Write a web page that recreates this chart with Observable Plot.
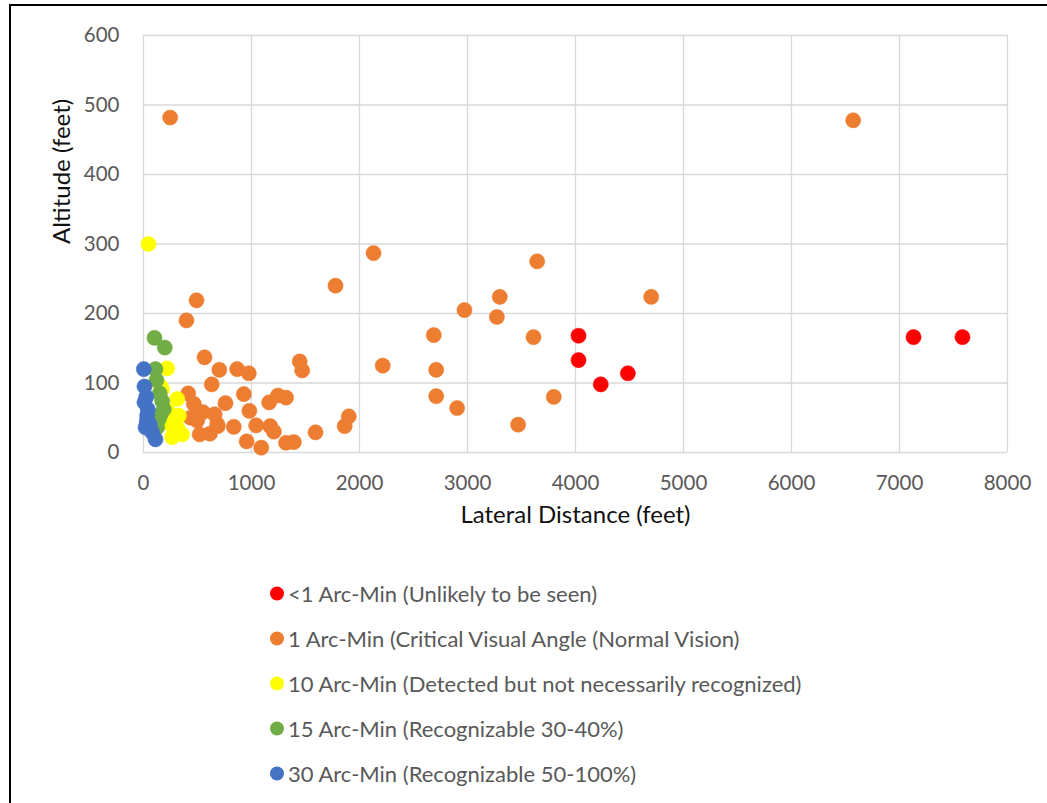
<!DOCTYPE html>
<html><head><meta charset="utf-8">
<script src="https://cdn.jsdelivr.net/npm/d3@7"></script>
<script src="https://cdn.jsdelivr.net/npm/@observablehq/plot@0.6"></script>
<style>
body{margin:0;background:#fff;font-family:Lato, "Open Sans", sans-serif;}
#wrap{position:relative;width:1047px;height:803px;overflow:hidden;background:#fff}
#chart{position:absolute;left:0;top:0}
#border{position:absolute;left:9px;top:4px;width:1200px;height:1000px;border:2px solid #000;box-sizing:border-box;pointer-events:none}
.item{position:absolute;left:270px;display:flex;align-items:center;font-size:22px;color:#595959;white-space:nowrap;transform:translateY(-50%)}
.sw{width:14px;height:14px;border-radius:50%;margin-right:4px}
</style></head><body>
<div id="wrap"><div id="chart"></div><div id="legend"></div><div id="border"></div></div>
<script>
const categories = [
  "<1 Arc-Min (Unlikely to be seen)",
  "1 Arc-Min (Critical Visual Angle (Normal Vision)",
  "10 Arc-Min (Detected but not necessarily recognized)",
  "15 Arc-Min (Recognizable 30-40%)",
  "30 Arc-Min (Recognizable 50-100%)"
];
const colors = ["#ff0000", "#ed7d31", "#ffff00", "#70ad47", "#4472c4"];
const xTicks = [0, 1000, 2000, 3000, 4000, 5000, 6000, 7000, 8000];
const yTicks = [0, 100, 200, 300, 400, 500, 600];

// [lateral distance (ft), altitude (ft)]
const lessThan1 = [[4028,168],[4028,133],[4234,98],[4485,114],[7130,166],[7583,166]];
const arcMin1 = [
  [247,482],[6571,478],[2130,287],[3645,275],[1778,240],[491,219],[3299,224],[4701,224],
  [2972,205],[3272,195],[398,190],[2688,169],[3611,166],[565,137],[1446,131],[1469,118],
  [2215,125],[2710,119],[702,119],[867,120],[975,114],[632,98],[414,85],[929,84],
  [2710,81],[3799,80],[1245,82],[1320,79],[1163,72],[759,71],[466,70],[2904,64],
  [980,60],[550,58],[659,55],[1901,52],[1863,38],[3469,40],[1593,29],[688,38],
  [836,37],[1043,39],[1173,38],[1207,30],[520,26],[615,27],[955,16],[1090,7],
  [1320,14],[1392,15],[435,50],[497,46],[682,41]
];
const arcMin10 = [[46,300],[219,121],[173,91],[312,77],[327,53],[250,41],[265,22],[358,26],[312,36],[160,95],[225,60],[290,30]];
const arcMin15 = [[102,165],[197,151],[111,120],[120,104],[173,74],[188,62],[142,48],[127,36],[150,85],[160,55]];
const arcMin30 = [[3,120],[9,95],[9,72],[34,53],[19,36],[80,29],[111,19],[30,45],[40,62],[25,80],[60,40]];

const series = [lessThan1, arcMin1, arcMin10, arcMin15, arcMin30];
const table = series.flatMap((pts, i) => pts.map(([x, y]) => ({x, y, cat: categories[i]})));

const font = "Lato, 'Open Sans', sans-serif";
const chart = Plot.plot({
  width: 1047, height: 560,
  marginLeft: 143, marginRight: 40, marginTop: 35, marginBottom: 108,
  style: {fontFamily: font, fontSize: "20.5px", color: "#595959", background: "transparent"},
  x: {domain: [0, 8000]},
  y: {domain: [0, 600]},
  color: {domain: categories, range: colors},
  marks: [
    Plot.gridX(xTicks, {stroke: "#d9d9d9", strokeOpacity: 1, strokeWidth: 1.3}),
    Plot.gridY(yTicks, {stroke: "#d9d9d9", strokeOpacity: 1, strokeWidth: 1.3}),
    Plot.axisX(xTicks, {tickSize: 0, tickPadding: 23, tickFormat: d => String(d), label: null, fill: "#595959"}),
    Plot.axisY(yTicks, {tickSize: 0, tickPadding: 24, tickFormat: d => String(d), label: null, fill: "#595959"}),
    Plot.text(["Lateral Distance (feet)"], {frameAnchor: "bottom", dy: 70, fontSize: 24, fill: "#111"}),
    Plot.text(["Altitude (feet)"], {frameAnchor: "left", dx: -81, rotate: -90, fontSize: 24, fill: "#111"}),
    Plot.dot(table, {x: "x", y: "y", r: 7.6, fill: "cat", stroke: "cat", strokeWidth: 0.5})
  ]
});
document.getElementById("chart").appendChild(chart);

const legendY = [593, 638, 683, 728, 773];
const leg = document.getElementById("legend");
categories.forEach((c, i) => {
  const d = document.createElement("div");
  d.className = "item";
  d.style.top = legendY[i] + "px";
  d.innerHTML = `<span class="sw" style="background:${colors[i]}"></span><span></span>`;
  d.lastChild.textContent = c;
  leg.appendChild(d);
});
</script></body></html>
